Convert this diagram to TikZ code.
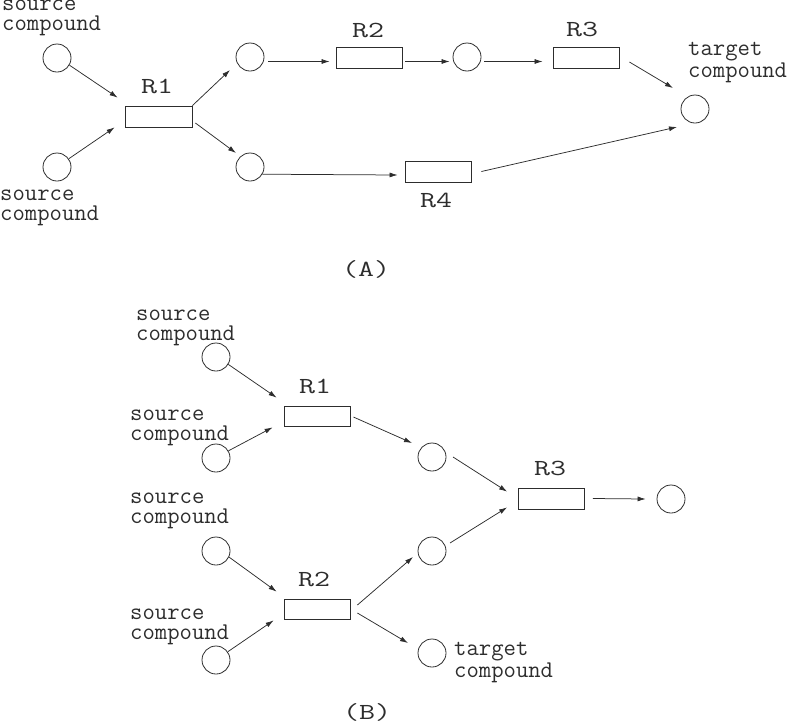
\documentclass[tikz,border=0pt]{standalone}
\usepackage{fontspec}
\usepackage{graphicx}
\usetikzlibrary{arrows.meta,calc}
\definecolor{ln}{RGB}{45,45,45}
\newcommand\lblfont{\ttfamily\fontsize{24}{20}\selectfont}
\newcommand\rfont{\ttfamily\fontsize{23}{23}\selectfont}
\newcommand\rtext[1]{\scalebox{1.35}[1]{#1}}
\begin{document}
\begin{tikzpicture}[x=1pt,y=-1pt,
  circ/.style={circle, draw=ln, minimum size=28pt, inner sep=0pt, line width=0.8pt},
  rbox/.style={rectangle, draw=ln, minimum width=66pt, minimum height=21pt, inner sep=0pt, line width=0.8pt},
  lbl/.style={anchor=base west, align=left, inner sep=0pt, text=ln, font=\lblfont},
  rlab/.style={anchor=base, inner sep=0pt, text=ln, font=\rfont},
  arr/.style={-{Latex[length=8pt,width=5pt]}, draw=ln, line width=0.75pt}]
\useasboundingbox (0,0) rectangle (791,726);

% ---------- Panel A ----------
\node[lbl] (la1) at (2,30) {source\\compound};
\node[lbl] (la2) at (0,220) {source\\compound};
\node[lbl] (la3) at (688,77) {target\\compound};
\node[circ] (s1) at (57,58) {};
\node[circ] (s2) at (57,167) {};
\node[rbox, minimum width=67pt] (r1) at (158.5,116.5) {};
\node[rlab] (r1l) at (157,93) {\rtext{R1}};
\node[circ] (m1) at (250,57) {};
\node[circ] (m2) at (250,167) {};
\node[rbox] (r2) at (369,57.5) {};
\node[rlab] (r2l) at (368,37) {\rtext{R2}};
\node[circ] (m3) at (467,57) {};
\node[rbox] (r3) at (586,57.5) {};
\node[rlab] (r3l) at (582,36) {\rtext{R3}};
\node[circ] (t) at (695,109) {};
\node[rbox] (r4) at (438,171.5) {};
\node[rlab] (r4l) at (436,207) {\rtext{R4}};
\node[rlab] (capA) at (366,276) {\rtext{(A)}};

\draw[arr] (s1.-30) -- ($(r1.north west)+(-7,-8)$);
\draw[arr] (s2.35) -- ($(r1.south west)+(-10,0)$);
\draw[arr] (r1.north east) -- ($(m1)+(-20,13)$);
\draw[arr] ($(r1.east)+(3,6.5)$) -- ($(m2)+(-14,-14)$);
\draw[arr] ($(m1)+(18,4.5)$) -- ($(r2.west)+(-6,4)$);
\draw[arr] ($(r2.east)+(3,4)$) -- ($(m3.west)+(-3,4.5)$);
\draw[arr] ($(m3.east)+(3,4.5)$) -- ($(r3.west)+(-10,4)$);
\draw[arr] ($(r3.east)+(10,4.5)$) -- ($(t)+(-22,-21)$);
\draw[arr] (m2.-30) -- ($(r4.west)+(-7,3.5)$);
\draw[arr] ($(r4.east)+(10,0)$) -- ($(t)+(-18,18)$);

% ---------- Panel B ----------
\node[lbl] (lb1) at (136,340) {source\\compound};
\node[lbl] (lb2) at (130,440) {source\\compound};
\node[lbl] (lb3) at (130,523) {source\\compound};
\node[lbl] (lb4) at (130,639) {source\\compound};
\node[lbl] (lb5) at (454,677) {target\\compound};
\node[circ] (b1) at (216,357) {};
\node[circ] (b2) at (216,458) {};
\node[circ] (b3) at (216,551) {};
\node[circ] (b4) at (216,660) {};
\node[rbox, minimum height=20pt] (q1) at (317,416) {};
\node[rlab] (q1l) at (315,393) {\rtext{R1}};
\node[rbox, minimum height=20pt] (q2) at (317,609) {};
\node[rlab] (q2l) at (314,586) {\rtext{R2}};
\node[circ] (p5) at (432,457) {};
\node[circ] (p6) at (432,551) {};
\node[circ] (tt) at (432,653) {};
\node[rbox] (q3) at (551.5,498.5) {};
\node[rlab] (q3l) at (550,475) {\rtext{R3}};
\node[circ] (f) at (671,499) {};
\node[rlab] (capB) at (367,719) {\rtext{(B)}};

\draw[arr] (b1.-31) -- ($(q1.north west)+(-7,-8)$);
\draw[arr] (b2.30) -- ($(q1.south west)+(-11,1)$);
\draw[arr] ($(q1.east)+(3,1)$) -- ($(p5)+(-20,-14)$);
\draw[arr] (b3.-25) -- ($(q2.north west)+(-7,-7)$);
\draw[arr] (b4.35) -- ($(q2.south west)+(-10,1)$);
\draw[arr] ($(q2.east)+(7,-4)$) -- ($(p6)+(-19,6)$);
\draw[arr] ($(q2.east)+(7,4)$) -- ($(tt)+(-24,-10)$);
\draw[arr] ($(p5)+(21,0)$) -- ($(q3.north west)+(-11,4)$);
\draw[arr] ($(p6)+(18,-8)$) -- ($(q3.south west)+(-11,-2)$);
\draw[arr] ($(q3.east)+(8,0)$) -- ($(f.west)+(-11,0)$);
\end{tikzpicture}
\end{document}
